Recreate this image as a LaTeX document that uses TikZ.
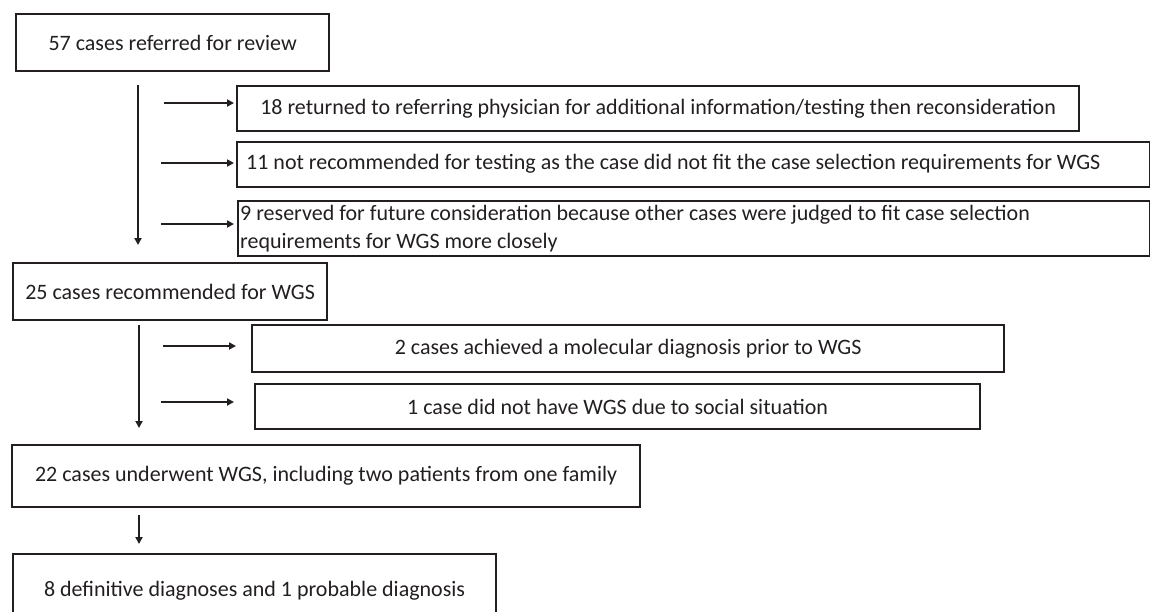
\documentclass[tikz,border=0pt]{standalone}
\usepackage{fontspec}
\setmainfont{Carlito}
\usetikzlibrary{arrows.meta}
\definecolor{ink}{HTML}{231F20}
\begin{document}
\begin{tikzpicture}[x=1pt,y=-1pt,
  box/.style={draw=ink,line width=2.2pt,inner sep=0pt,anchor=north west,text=ink},
  lab/.style={text=ink,inner sep=0pt},
  conn/.style={draw=ink,line width=1.8pt,-{Triangle[length=7pt,width=7pt]}},
  every node/.style={font=\fontsize{22}{28}\selectfont}]
\useasboundingbox (0,0) rectangle (1150,611);
% boxes
\node[box,minimum width=313pt,minimum height=57pt] (b57) at (15,13) {57 cases referred for review};
\node[box,minimum width=842pt,minimum height=45pt] (b18) at (236,85) {18 returned to referring physician for additional information/testing then reconsideration};
\node[box,minimum width=913pt,minimum height=45pt] (b11) at (236,141) {};
\node[lab,anchor=west] (t11) at (246,163.5) {11 not recommended for testing as the case did not fit the case selection requirements for WGS};
\node[box,minimum width=912pt,minimum height=55pt] (b9) at (237,200) {};
\node[lab,anchor=north west,align=left] (t9) at (240,205) {9 reserved for future consideration because other cases were judged to fit case selection\\requirements for WGS more closely};
\node[box,minimum width=314pt,minimum height=57pt] (b25) at (12,262) {25 cases recommended for WGS};
\node[box,minimum width=752pt,minimum height=47pt] (b2) at (251,324) {2 cases achieved a molecular diagnosis prior to WGS};
\node[box,minimum width=725pt,minimum height=45pt] (b1) at (254,383) {1 case did not have WGS due to social situation};
\node[box,minimum width=628pt,minimum height=62pt] (b22) at (11,444) {22 cases underwent WGS, including two patients from one family};
\node[box,minimum width=483pt,minimum height=74pt] (b8) at (12,553) {8 definitive diagnoses and 1 probable diagnosis};
% coordinates
\coordinate (v1s) at (138,85);
\coordinate (v1e) at (138,245);
\coordinate (h1) at (164,103);
\coordinate (h2) at (161,163);
\coordinate (h3) at (161,224);
\coordinate (v2s) at (139,325);
\coordinate (v2e) at (139,428);
\coordinate (h4) at (163,346);
\coordinate (h5) at (161,402);
\coordinate (v3s) at (139,515);
% connectors
\draw[conn] (v1s) -- (v1e);
\draw[conn,shorten >=2pt] (h1) -- (h1 -| b18.west);
\draw[conn,shorten >=2pt] (h2) -- (h2 -| b11.west);
\draw[conn,shorten >=3pt] (h3) -- (h3 -| b9.west);
\draw[conn] (v2s) -- (v2e);
\draw[conn,shorten >=15pt] (h4) -- (h4 -| b2.west);
\draw[conn,shorten >=20pt] (h5) -- (h5 -| b1.west);
\draw[conn,shorten >=9pt] (v3s) -- (v3s |- b8.north);
\end{tikzpicture}
\end{document}
